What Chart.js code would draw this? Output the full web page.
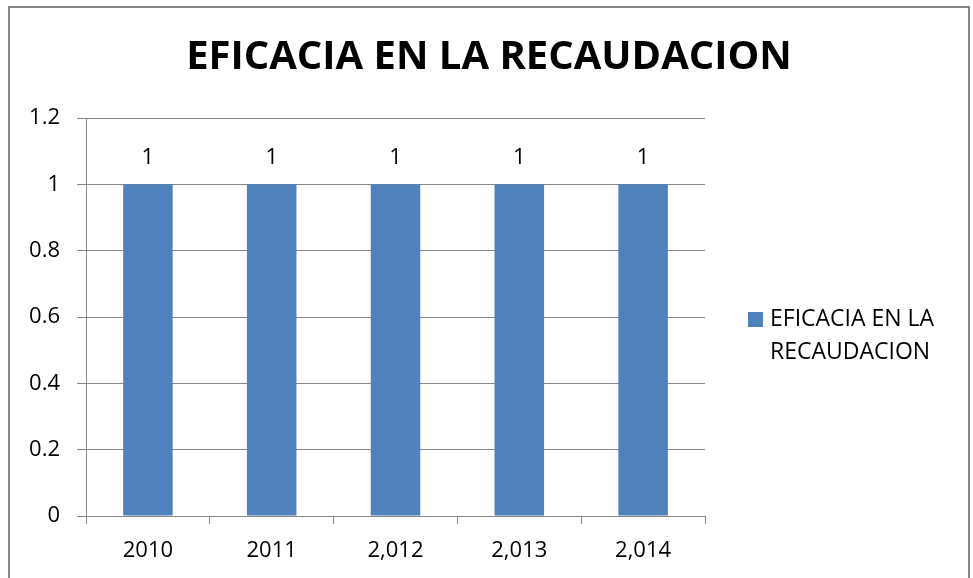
<!DOCTYPE html>
<html>
<head>
<meta charset="utf-8">
<script src="https://cdn.jsdelivr.net/npm/chart.js@4/dist/chart.umd.min.js"></script>
<style>
    html, body { margin: 0; padding: 0; background: #fff; overflow: hidden; }
    #box {
        position: absolute; left: 8px; top: 6px;
        width: 958px; height: 572px;
        border: 2px solid #878787; border-bottom: none;
    }
    #box canvas { display: block; }
</style>
</head>
<body>
<div id="box"><canvas id="chart" width="958" height="572"></canvas></div>
<script>
(function(){
    'use strict';
    // ---- data
    const years = ['2010', '2011', '2,012', '2,013', '2,014'];
    const eficacia = [1, 1, 1, 1, 1];
    const serieName = 'EFICACIA EN LA RECAUDACION';
    const legendLines = ['EFICACIA EN LA', 'RECAUDACION'];
    const yTicks = [0, 0.2, 0.4, 0.6, 0.8, 1, 1.2];

    const gris = '#878787';
    const azul = '#4F81BD';
    const fuente = "'Open Sans', sans-serif";

    // titulo centrado sobre todo el grafico
    const titulo = {
        id: 'titulo',
        afterDraw(chart){
            const ctx = chart.ctx;
            ctx.save();
            ctx.font = 'bold 40px ' + fuente;
            ctx.fillStyle = '#000';
            ctx.textAlign = 'center';
            ctx.textBaseline = 'middle';
            ctx.fillText(serieName, chart.width / 2, 50);
            ctx.restore();
        }
    };

    // valores encima de las barras
    const etiquetas = {
        id: 'etiquetas',
        afterDatasetsDraw(chart){
            const ctx = chart.ctx;
            ctx.save();
            ctx.font = '22px ' + fuente;
            ctx.fillStyle = '#000';
            ctx.textAlign = 'center';
            ctx.textBaseline = 'middle';
            chart.getDatasetMeta(0).data.forEach(function(bar, i){
                ctx.fillText(String(chart.data.datasets[0].data[i]), bar.x, bar.y - 27);
            });
            ctx.restore();
        }
    };

    // leyenda a la derecha, en dos lineas
    const leyenda = {
        id: 'leyenda',
        afterDraw(chart){
            const ctx = chart.ctx;
            const a = chart.chartArea;
            const x = a.right + 43;
            const y = a.top + 201;
            ctx.save();
            ctx.fillStyle = azul;
            ctx.fillRect(x, y - 7, 15, 15);
            ctx.fillStyle = '#000';
            ctx.font = '23px ' + fuente;
            ctx.textBaseline = 'middle';
            for(let i = 0; i < legendLines.length; i++){
                ctx.fillText(legendLines[i], x + 22, y + i * 33);
            }
            ctx.restore();
        }
    };

    new Chart('chart', {
        type: 'bar',
        data: {
            labels: years,
            datasets: [{
                label: serieName,
                data: eficacia,
                backgroundColor: azul,
                borderWidth: 0,
                barPercentage: 0.4,
                categoryPercentage: 1
            }]
        },
        options: {
            responsive: false,
            animation: false,
            layout: { padding: { left: 0, right: 263, top: 110, bottom: 0 } },
            plugins: {
                legend: { display: false },
                tooltip: { enabled: false },
                title: { display: false }
            },
            scales: {
                x: {
                    grid: { display: true, drawOnChartArea: false, drawTicks: true, tickLength: 8, color: gris, offset: true },
                    border: { display: true, color: gris, width: 1 },
                    ticks: { color: '#000', font: { family: fuente, size: 22 }, padding: 14, maxRotation: 0 },
                    afterFit(scale){ scale.height = 64; }
                },
                y: {
                    min: 0,
                    max: 1.2,
                    afterBuildTicks(scale){
                        scale.ticks = yTicks.map(function(v){ return { value: v }; });
                    },
                    grid: { color: gris, tickLength: 9 },
                    border: { display: true, color: gris, width: 1 },
                    ticks: {
                        color: '#000',
                        font: { family: fuente, size: 22 },
                        padding: 17,
                        callback: function(v){ return String(v); }
                    },
                    afterFit(scale){ scale.width = 76; }
                }
            }
        },
        plugins: [titulo, etiquetas, leyenda]
    });
}());
</script>
</body>
</html>
